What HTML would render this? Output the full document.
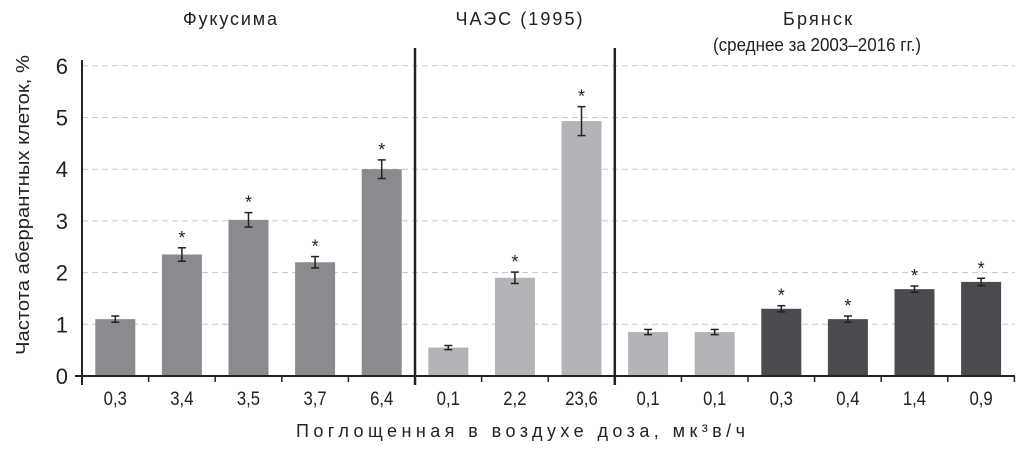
<!DOCTYPE html>
<html><head><meta charset="utf-8"><style>
body{margin:0;background:#fff;width:1024px;height:447px;overflow:hidden}
svg text{font-family:"Liberation Sans Narrow","Liberation Sans",sans-serif;fill:#222}
</style></head><body>
<svg id="c" width="1024" height="447"></svg>
<script>
const groups=["Фукусима","ЧАЭС (1995)","Брянск"];
const labels=["0,3","3,4","3,5","3,7","6,4","0,1","2,2","23,6","0,1","0,1","0,3","0,4","1,4","0,9"];
const values=[1.1,2.35,3.02,2.2,4.0,0.55,1.9,4.93,0.85,0.85,1.3,1.1,1.68,1.82];
const errors=[0.06,0.13,0.14,0.11,0.18,0.04,0.11,0.28,0.05,0.05,0.06,0.06,0.06,0.07];
const stars=[0,1,1,1,1,0,1,1,0,0,1,1,1,1];
const colorKeys=[0,0,0,0,0,1,1,1,1,1,2,2,2,2];
const yTicks=[0,1,2,3,4,5,6];
const palette=["#8a8b8e","#b3b4b7","#4a4b4e"];
const X0=82,SLOT=66.6,Y0=376,YU=51.7;
const xs=i=>X0+SLOT*(i+0.5), ys=v=>Y0-v*YU;
const s=document.getElementById('c'),NS="http://www.w3.org/2000/svg";
function mk(t,a,txt){const e=document.createElementNS(NS,t);for(const k in a)e.setAttribute(k,a[k]);if(txt!=null)e.textContent=txt;s.appendChild(e);return e;}
yTicks.forEach(v=>{
 if(v>0){const g=mk('line',{x1:X0,x2:1015,y1:ys(v),y2:ys(v),stroke:'#c8c8c8','stroke-dasharray':'6,4'});
 
 }
 const t=mk('text',{x:68,y:ys(v)+8,'text-anchor':'end','font-size':22},v);
 
 
});
values.forEach((v,i)=>{
 const cx=xs(i);
 const b=mk('rect',{x:cx-20,y:ys(v),width:40,height:v*YU,fill:palette[colorKeys[i]]});
 
 
 const e=errors[i],top=ys(v+e),bot=ys(v-e);
 mk('line',{x1:cx,x2:cx,y1:top,y2:bot,stroke:'#222','stroke-width':1.5});
 mk('line',{x1:cx-4,x2:cx+4,y1:top,y2:top,stroke:'#222','stroke-width':1.5});
 mk('line',{x1:cx-4,x2:cx+4,y1:bot,y2:bot,stroke:'#222','stroke-width':1.5});
 if(stars[i]){const st=mk('text',{x:cx,y:top-4,'text-anchor':'middle','font-size':18},'*');
 
 }
 const l=mk('text',{x:cx,y:405,'text-anchor':'middle','font-size':19,transform:`translate(${cx},0) scale(0.88,1) translate(${-cx},0)`},labels[i]);
 
 
});
mk('line',{x1:75,x2:1015,y1:Y0,y2:Y0,stroke:'#222','stroke-width':2});
mk('line',{x1:X0,x2:X0,y1:60,y2:385,stroke:'#222','stroke-width':2});
for(let k=1;k<=14;k++)mk('line',{x1:X0+SLOT*k,x2:X0+SLOT*k,y1:Y0,y2:382,stroke:'#222','stroke-width':1.5});
[5,8].forEach(k=>mk('line',{x1:X0+SLOT*k,x2:X0+SLOT*k,y1:48,y2:385,stroke:'#222','stroke-width':2.5}));
const gx=[230,519,817.5];
const gw=[94,127,69];
groups.forEach((g,i)=>{const t=mk('text',{x:gx[i]-gw[i]/2,y:25,'font-size':18,textLength:gw[i],lengthAdjust:'spacing'},g);
 
 });
const sub=mk('text',{x:713,y:51,'font-size':18,textLength:208,lengthAdjust:'spacingAndGlyphs'},'(среднее за 2003–2016 гг.)');


const xt=mk('text',{x:296,y:437,'font-size':18,textLength:449,lengthAdjust:'spacing'},'Поглощенная в воздухе доза, мк³в/ч');


const yt=mk('text',{x:-150,y:0,'font-size':18,textLength:300,lengthAdjust:'spacingAndGlyphs',transform:'translate(29,205) rotate(-90)'},'Частота аберрантных клеток, %');


</script>
</body></html>
